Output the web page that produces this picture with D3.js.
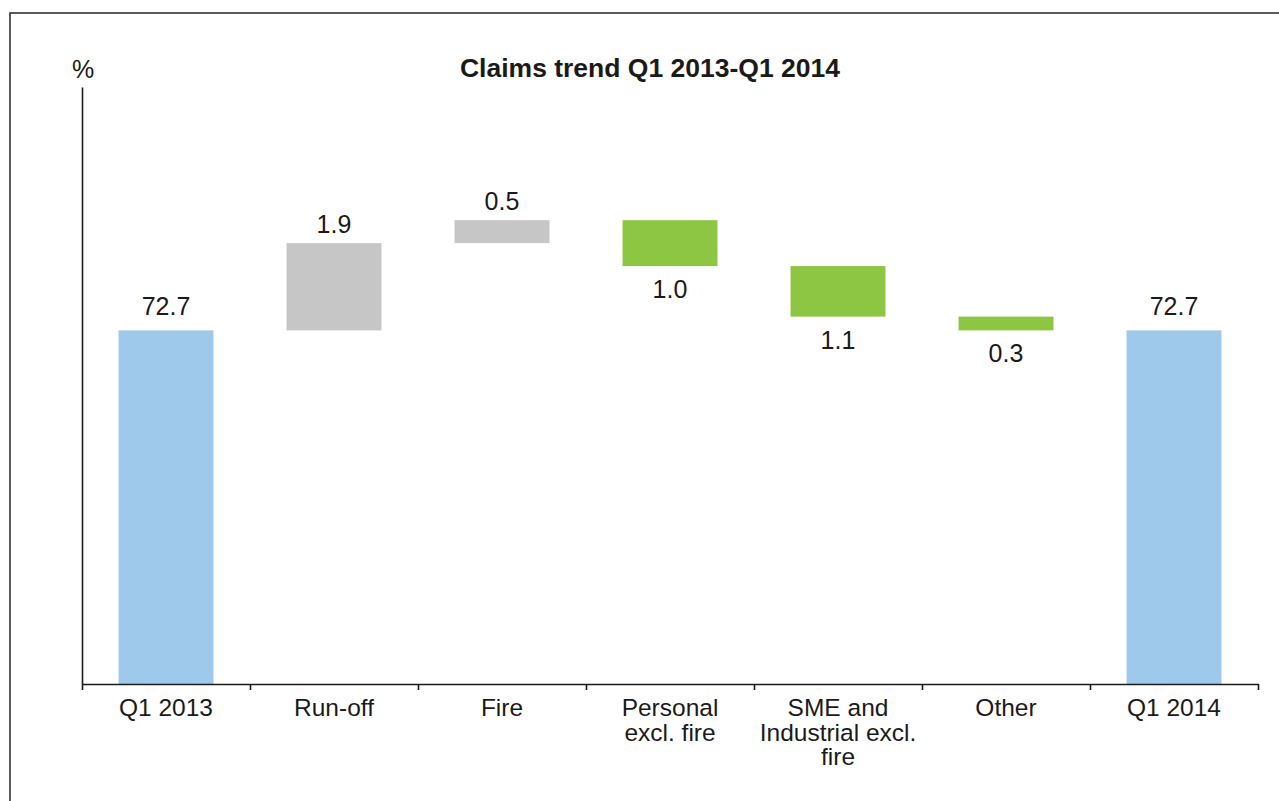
<!DOCTYPE html>
<html>
<head>
<meta charset="utf-8">
<script src="https://cdn.jsdelivr.net/npm/d3@7"></script>
<style>
    body { margin: 0; background: #fff; }
    text { font-family: "Liberation Sans", Arial, sans-serif; fill: #1a1a1a; }
</style>
</head>
<body>
<div id="plot"></div>
<script>
// chart values
const categories = ["Q1 2013", "Run-off", "Fire", "Personal excl. fire", "SME and Industrial excl. fire", "Other", "Q1 2014"];
const tickLabels = [["Q1 2013"], ["Run-off"], ["Fire"], ["Personal", "excl. fire"], ["SME and", "Industrial excl.", "fire"], ["Other"], ["Q1 2014"]];
const startValue = 72.7;
const endValue = 72.7;
const deltas = [1.9, 0.5, -1.0, -1.1, -0.3];
const yDomain = [65, 78];
const title = "Claims trend Q1 2013-Q1 2014";
const yUnit = "%";

const colors = { total: "#9ec9ea", up: "#c6c6c6", down: "#8dc642", axis: "#1a1a1a", frame: "#333" };

const width = 1279, height = 801;
const margin = { top: 87, left: 82, right: 21, bottom: 117 };
const plotW = width - margin.left - margin.right;
const plotH = height - margin.top - margin.bottom;

// build waterfall segments
let running = startValue;
const segments = [{ cat: categories[0], y0: yDomain[0], y1: startValue, value: startValue, type: "total" }];
deltas.forEach((d, i) => {
    const next = running + d;
    segments.push({ cat: categories[i + 1], y0: running, y1: next, value: d, type: d >= 0 ? "up" : "down" });
    running = next;
});
segments.push({ cat: categories[categories.length - 1], y0: yDomain[0], y1: endValue, value: endValue, type: "total" });

const svg = d3.select("#plot").append("svg")
    .attr("width", width)
    .attr("height", height);

// outer frame
svg.append("rect")
    .attr("x", 10).attr("y", 13)
    .attr("width", width + 50).attr("height", height + 50)
    .attr("fill", "none")
    .attr("stroke", colors.frame)
    .attr("stroke-width", 1.6);

const g = svg.append("g").attr("transform", `translate(${margin.left},${margin.top})`);

const x = d3.scaleBand().domain(categories).range([0, plotW]).padding(0);
const xEdge = d3.scaleLinear().domain([0, categories.length]).range([0, plotW]);
const y = d3.scaleLinear().domain(yDomain).range([plotH, 0]);
const barW = x.bandwidth() * 0.565;

// bars
g.append("g")
    .selectAll("rect")
    .data(segments)
    .join("rect")
    .attr("x", d => x(d.cat) + (x.bandwidth() - barW) / 2)
    .attr("y", d => y(Math.max(d.y0, d.y1)))
    .attr("width", barW)
    .attr("height", d => Math.abs(y(d.y0) - y(d.y1)))
    .attr("fill", d => colors[d.type]);

// value labels
g.append("g")
    .selectAll("text")
    .data(segments)
    .join("text")
    .attr("text-anchor", "middle")
    .attr("font-size", 25)
    .attr("x", d => x(d.cat) + x.bandwidth() / 2)
    .attr("y", d => {
        if (d.type === "total") return y(d.y1) - 15;
        if (d.type === "up") return y(d.y1) - 10;
        return y(d.y1) + 32;
    })
    .text(d => Math.abs(d.value).toFixed(1));

// y axis (line only)
const yAxis = g.append("g")
    .call(d3.axisLeft(y).tickValues([]).tickSizeOuter(0));
yAxis.select(".domain").attr("stroke", colors.axis).attr("stroke-width", 1.6);

// x axis with ticks at band edges
const xAxis = g.append("g")
    .attr("transform", `translate(0,${plotH})`)
    .call(d3.axisBottom(xEdge).tickValues(d3.range(categories.length + 1)).tickFormat("").tickSize(6).tickSizeOuter(0));
xAxis.select(".domain").attr("stroke", colors.axis).attr("stroke-width", 1.6);
xAxis.selectAll(".tick line").attr("stroke", colors.axis).attr("stroke-width", 1.6);

// category labels
const labels = g.append("g")
    .selectAll("text")
    .data(categories)
    .join("text")
    .attr("text-anchor", "middle")
    .attr("font-size", 24.5)
    .attr("transform", d => `translate(${x(d) + x.bandwidth() / 2},${plotH + 32})`);
labels.selectAll("tspan")
    .data((d, i) => tickLabels[i])
    .join("tspan")
    .attr("x", 0)
    .attr("dy", (d, i) => i === 0 ? 0 : 24.5)
    .text(d => d);

// unit label
svg.append("text")
    .attr("x", margin.left + 1)
    .attr("y", 78)
    .attr("text-anchor", "middle")
    .attr("font-size", 25)
    .text(yUnit);

// title
svg.append("text")
    .attr("x", 650)
    .attr("y", 77)
    .attr("text-anchor", "middle")
    .attr("font-size", 26.5)
    .attr("font-weight", "bold")
    .text(title);
</script>
</body>
</html>
